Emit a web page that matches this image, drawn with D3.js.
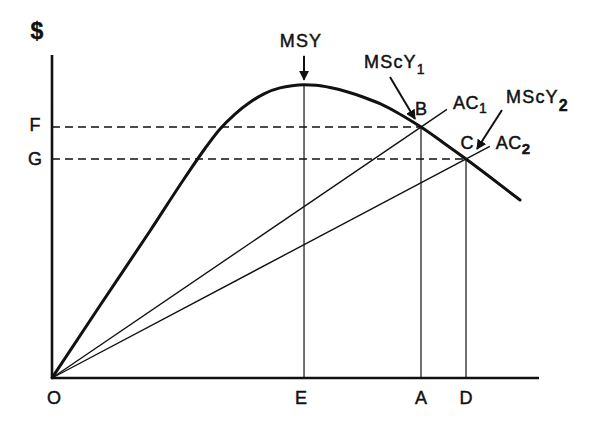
<!DOCTYPE html>
<html>
<head>
<meta charset="utf-8">
<script src="https://cdn.jsdelivr.net/npm/d3@7"></script>
<style>
  html, body { margin: 0; padding: 0; background: #fff; }
  svg { display: block; }
  text { font-family: "Liberation Sans", Arial, sans-serif; fill: #111; stroke: #111; stroke-width: 0.45px; }
</style>
</head>
<body>
<svg id="chart" width="600" height="423"></svg>
<script>
// ---- Data (abstract units: effort on x, $ on y) ----
const curveX = [0, 9.86, 20.12, 27.31, 31.42, 34.50, 37.58, 40.66, 43.74, 46.82, 49.28, 51.75, 54.21, 57.08, 60.57, 63.86, 67.35, 70.84, 74.13, 75.77, 80.29, 85.01, 89.94, 96.10];
const curveY = [0, 22.45, 45.51, 62.07, 71.05, 77.09, 81.73, 85.36, 88.14, 89.81, 90.50, 90.77, 90.62, 89.94, 88.64, 87.00, 84.92, 82.20, 79.26, 77.71, 72.94, 67.80, 62.23, 55.11];
const xTickLabels = ["O", "E", "A", "D"];
const xTickValues = [0, 51.75, 75.77, 85.01];
const yTickLabels = ["F", "G"];
const yTickValues = [77.71, 67.80];
const pointNames = ["B", "C"];
const pointX = [75.77, 85.01];
const pointY = [77.71, 67.80];
const rayNames = ["AC", "AC"];
const raySubs = ["1", "2"];
const rayEndX = [81.1, 89.9];
const msyX = 51.75, msyY = 90.77;

const svg = d3.select("#chart");
const x = d3.scaleLinear().domain([0, 100]).range([52, 539]);
const y = d3.scaleLinear().domain([0, 100]).range([378, 55]);

// arrow marker
svg.append("defs").append("marker")
  .attr("id", "ah").attr("viewBox", "0 0 10 10")
  .attr("refX", 9).attr("refY", 5)
  .attr("markerWidth", 5).attr("markerHeight", 5)
  .attr("markerUnits", "strokeWidth")
  .attr("orient", "auto")
  .append("path").attr("d", "M0,0 L10,5 L0,10 Z").attr("fill", "#111");

// dashed horizontals F, G
svg.selectAll("line.dash").data(pointNames).join("line")
  .attr("class", "dash")
  .attr("x1", x(0)).attr("x2", (d, i) => x(pointX[i]))
  .attr("y1", (d, i) => y(pointY[i])).attr("y2", (d, i) => y(pointY[i]))
  .attr("stroke", "#111").attr("stroke-width", 1.5)
  .attr("stroke-dasharray", "8,5");

// verticals E, A, D
const vTops = [msyY, pointY[0], pointY[1]];
svg.selectAll("line.vert").data(xTickValues.slice(1)).join("line")
  .attr("class", "vert")
  .attr("x1", d => x(d)).attr("x2", d => x(d))
  .attr("y1", y(0)).attr("y2", (d, i) => y(vTops[i]))
  .attr("stroke", "#111").attr("stroke-width", 1.2);

// rays AC1, AC2
svg.selectAll("line.ray").data(rayEndX).join("line")
  .attr("class", "ray")
  .attr("x1", x(0)).attr("y1", y(0))
  .attr("x2", d => x(d))
  .attr("y2", (d, i) => y(pointY[i] / pointX[i] * d))
  .attr("stroke", "#111").attr("stroke-width", 1.4);

// yield curve
const pts = curveX.map((v, i) => [v, curveY[i]]);
svg.append("path").datum(pts)
  .attr("d", d3.line().x(d => x(d[0])).y(d => y(d[1])).curve(d3.curveMonotoneX))
  .attr("fill", "none").attr("stroke", "#111").attr("stroke-width", 3)
  .attr("stroke-linecap", "round").attr("stroke-linejoin", "round");

// axes
svg.append("line").attr("x1", x(0)).attr("x2", x(0)).attr("y1", y(0)).attr("y2", y(100))
  .attr("stroke", "#111").attr("stroke-width", 2.6);
svg.append("line").attr("x1", x(0)).attr("x2", x(100)).attr("y1", y(0)).attr("y2", y(0))
  .attr("stroke", "#111").attr("stroke-width", 2.6);

// axis labels
svg.append("text").attr("x", 37).attr("y", 39).attr("text-anchor", "middle")
  .attr("font-size", 23).attr("font-weight", "bold").text("$");
svg.selectAll("text.xt").data(xTickLabels).join("text")
  .attr("class", "xt")
  .attr("x", (d, i) => x(xTickValues[i]) + (i === 0 ? 2 : (i === 1 ? -3 : 0)))
  .attr("y", 404).attr("text-anchor", "middle")
  .attr("font-size", 18).text(d => d);
svg.selectAll("text.yt").data(yTickLabels).join("text")
  .attr("class", "yt")
  .attr("x", 35).attr("y", (d, i) => y(yTickValues[i]) + (i === 0 ? 4 : 6))
  .attr("text-anchor", "middle").attr("font-size", 18).text(d => d);

// point labels B, C
svg.selectAll("text.pt").data(pointNames).join("text")
  .attr("class", "pt")
  .attr("x", (d, i) => x(pointX[i]) + (i === 0 ? 0 : 1))
  .attr("y", (d, i) => y(pointY[i]) - (i === 0 ? 12 : 10))
  .attr("text-anchor", "middle").attr("font-size", 18).text(d => d);

// ray labels AC1, AC2
rayNames.forEach((nm, i) => {
  const ex = x(rayEndX[i]), ey = y(pointY[i] / pointX[i] * rayEndX[i]);
  const t = svg.append("text").attr("x", ex + 6).attr("y", ey + (i === 0 ? 0 : 3))
    .attr("font-size", 18).attr("letter-spacing", 0.5);
  t.append("tspan").text(nm);
  t.append("tspan").attr("dy", i === 0 ? 4 : 5).attr("font-size", i === 0 ? 14 : 15)
    .attr("font-weight", i === 0 ? "normal" : "bold").text(raySubs[i]);
});

// MSY label + arrow
svg.append("text").attr("x", x(msyX) - 3).attr("y", 47).attr("text-anchor", "middle")
  .attr("font-size", 18).attr("letter-spacing", 1.2).text("MSY");
svg.append("line").attr("x1", x(msyX)).attr("x2", x(msyX))
  .attr("y1", y(msyY) - 29).attr("y2", y(msyY) - 5)
  .attr("stroke", "#111").attr("stroke-width", 2).attr("marker-end", "url(#ah)");

// MScY1 label + arrow
{
  const bx = x(pointX[0]), by = y(pointY[0]);
  const t = svg.append("text").attr("x", 364).attr("y", 68).attr("font-size", 18).attr("letter-spacing", 1.2);
  t.append("tspan").text("MScY");
  t.append("tspan").attr("dy", 6).attr("font-size", 14).text("1");
  svg.append("line").attr("x1", bx - 31).attr("y1", by - 50).attr("x2", bx - 6).attr("y2", by - 8)
    .attr("stroke", "#111").attr("stroke-width", 2).attr("marker-end", "url(#ah)");
}
// MScY2 label + arrow
{
  const cx = x(pointX[1]), cy = y(pointY[1]);
  const t = svg.append("text").attr("x", 506).attr("y", 103).attr("font-size", 18).attr("letter-spacing", 1.2);
  t.append("tspan").text("MScY");
  t.append("tspan").attr("dy", 8).attr("font-size", 16).attr("font-weight", "bold").text("2");
  svg.append("line").attr("x1", cx + 36).attr("y1", cy - 49).attr("x2", cx + 11).attr("y2", cy - 10)
    .attr("stroke", "#111").attr("stroke-width", 2).attr("marker-end", "url(#ah)");
}
</script>
</body>
</html>
